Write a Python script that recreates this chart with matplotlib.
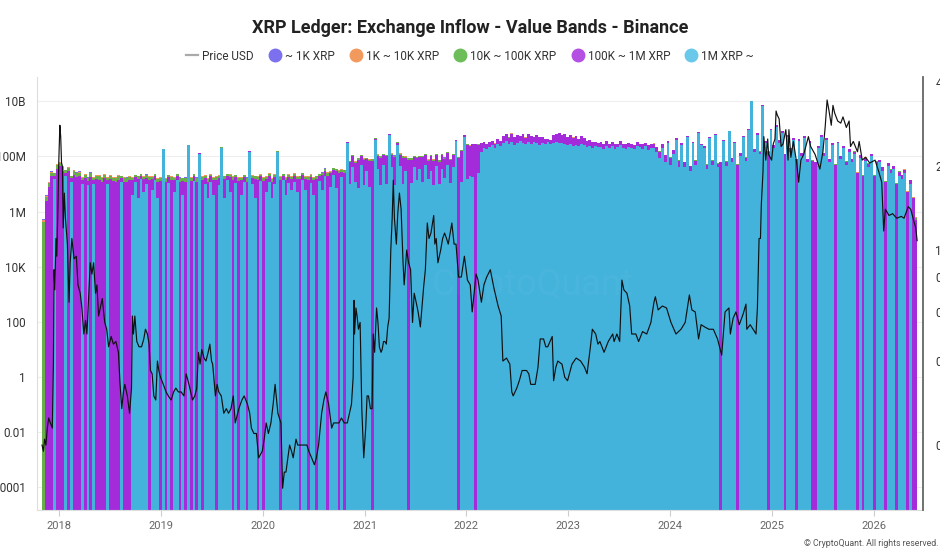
import numpy as np
import pandas as pd
import matplotlib
matplotlib.use('Agg')
import matplotlib.pyplot as plt
from matplotlib.lines import Line2D
from matplotlib.ticker import FixedLocator, FixedFormatter, NullLocator

plt.rcParams['font.family'] = ['Roboto', 'DejaVu Sans']

# ---------------- data ----------------
title = 'XRP Ledger: Exchange Inflow - Value Bands - Binance'
series_names = ['~ 1K XRP', '1K ~ 10K XRP', '10K ~ 100K XRP', '100K ~ 1M XRP', '1M XRP ~']
price_name = 'Price USD'

bin_start = '2017-11-01'   # first bar
bin_days = 10              # one bar per 10 days

# inflow per band, millions of XRP
band_1m_plus = [
    0, 0, 0, 0, 15, 0, 0, 0, 20, 0,
    12, 0, 0, 0, 10, 0, 9, 0, 10, 0,
    0, 0, 0, 10, 0, 0, 0, 0, 12, 0,
    0, 0, 4, 12, 3, 15, 5, 10, 0, 6,
    14, 3, 0, 180, 0, 11, 0, 5, 14, 0,
    4, 0, 250, 0, 13, 0, 120, 0, 10, 3,
    12, 4, 0, 9, 200, 3, 14, 5, 0, 11,
    0, 4, 12, 0, 150, 10, 3, 0, 13, 0,
    5, 12, 3, 10, 140, 0, 14, 4, 11, 6,
    12, 5, 0, 14, 6, 0, 11, 4, 0, 13,
    6, 20, 0, 8, 22, 7, 0, 18, 0, 300,
    10, 40, 12, 7, 50, 9, 30, 8, 0, 400,
    35, 9, 50, 10, 600, 40, 9, 250, 45, 10,
    30, 0, 11, 40, 14, 35, 12, 50, 15, 30,
    9, 45, 10, 35, 16, 50, 11, 40, 350, 0,
    12, 500, 15, 20, 18, 0, 25, 150, 200, 180,
    220, 250, 200, 280, 230, 300, 350, 280, 320, 260,
    300, 350, 300, 280, 330, 280, 320, 300, 260, 300,
    280, 320, 270, 300, 320, 300, 300, 280, 260, 290,
    230, 260, 240, 280, 250, 220, 240, 200, 230, 210,
    220, 190, 240, 200, 230, 180, 210, 250, 200, 190,
    220, 200, 180, 240, 210, 190, 230, 170, 200, 200,
    150, 90, 200, 60, 300, 50, 120, 400, 40, 250,
    40, 500, 30, 300, 50, 700, 250, 200, 35, 450,
    50, 600, 40, 0, 350, 45, 800, 60, 300, 0,
    100, 500, 70, 900, 10000, 150, 600, 120, 7000, 300,
    0, 900, 200, 1200, 300, 700, 0, 500, 150, 400,
    0, 350, 100, 450, 60, 300, 0, 0, 200, 500,
    100, 400, 60, 250, 0, 300, 80, 200, 50, 150,
    60, 120, 0, 90, 0, 70, 40, 100, 0, 50,
    60, 30, 0, 45, 25, 35, 0, 20, 15, 25,
    0, 10, 0, 0,
]
band_100k_1m = [
    0, 2.5, 8, 20, 5, 35, 45, 30, 6, 30,
    4, 22, 18, 20, 4, 16, 4, 18, 4, 15,
    14, 12, 16, 4, 15, 13, 12, 14, 4, 12,
    12, 14, 10, 6, 12, 5, 10, 7, 14, 9,
    6, 9, 13, 8, 12, 7, 14, 9, 6, 12,
    9, 12, 8, 13, 7, 12, 8, 14, 7, 9,
    7, 10, 14, 8, 8, 12, 6, 13, 14, 7,
    13, 10, 6, 12, 8, 7, 12, 14, 6, 13,
    10, 7, 9, 8, 8, 14, 6, 10, 7, 9,
    7, 10, 15, 7, 9, 14, 7, 10, 15, 7,
    15, 10, 20, 16, 10, 22, 24, 10, 25, 20,
    50, 60, 45, 70, 55, 65, 50, 60, 70, 40,
    70, 80, 60, 90, 50, 75, 85, 60, 70, 80,
    60, 75, 65, 55, 70, 60, 80, 65, 55, 70,
    60, 70, 55, 75, 65, 80, 60, 70, 50, 85,
    150, 100, 250, 220, 260, 280, 240, 150, 120, 100,
    100, 120, 90, 150, 130, 250, 300, 200, 350, 250,
    300, 200, 350, 200, 300, 250, 200, 300, 250, 200,
    150, 100, 120, 300, 350, 400, 300, 350, 250, 300,
    250, 300, 200, 250, 200, 150, 150, 120, 100, 100,
    100, 90, 110, 80, 100, 90, 80, 100, 70, 90,
    80, 90, 70, 100, 80, 90, 70, 80, 90, 90,
    70, 60, 80, 50, 60, 40, 50, 60, 30, 50,
    20, 50, 15, 40, 20, 60, 40, 30, 15, 40,
    20, 50, 15, 60, 40, 20, 60, 25, 40, 50,
    30, 60, 20, 80, 200, 40, 80, 30, 200, 60,
    150, 100, 60, 150, 80, 100, 120, 80, 50, 70,
    80, 60, 30, 80, 20, 60, 70, 60, 40, 80,
    30, 60, 20, 50, 50, 40, 20, 40, 15, 40,
    20, 30, 25, 25, 20, 20, 15, 25, 20, 15,
    15, 10, 12, 12, 8, 10, 10, 8, 6, 8,
    5, 4, 3, 0.5,
]
band_10k_100k = [
    0.4, 1, 3, 6, 4, 12, 14, 10, 5, 9,
    3, 7, 6, 6, 3, 5, 3, 6, 3, 5,
    5, 4, 5, 3, 5, 4, 4, 5, 3, 4,
    4, 4, 3, 3, 4, 3, 3, 4, 4, 3,
    3, 3, 4, 3, 3, 3, 4, 3, 3, 4,
    3, 4, 3, 4, 3, 4, 3, 4, 3, 3,
    3, 3, 4, 3, 3, 4, 3, 4, 4, 3,
    4, 3, 3, 4, 3, 3, 4, 4, 3, 4,
    3, 4, 3, 4, 3, 4, 3, 3, 4, 3,
    4, 3, 4, 3, 3, 4, 4, 3, 4, 3,
    4, 5, 5, 4, 5, 5, 6, 5, 6, 5,
    8, 9, 7, 10, 8, 9, 8, 9, 10, 7,
    10, 11, 9, 12, 8, 10, 11, 9, 10, 11,
    8, 9, 8, 7, 9, 8, 10, 8, 7, 9,
    8, 9, 7, 9, 8, 10, 8, 9, 7, 10,
    6, 5, 8, 7, 8, 8, 7, 5, 4, 4,
    4, 4, 3, 5, 4, 5, 6, 5, 6, 5,
    5, 4, 5, 4, 5, 4, 4, 5, 4, 4,
    3, 3, 3, 5, 5, 6, 5, 5, 4, 5,
    4, 5, 4, 4, 3, 3, 3, 3, 2, 2,
    2, 2, 2, 2, 2, 2, 2, 2, 2, 2,
    2, 2, 2, 2, 2, 2, 2, 2, 2, 3,
    2, 2, 2, 1.5, 2, 1.5, 2, 2, 1.5, 2,
    1.5, 2, 1, 2, 1.5, 2, 2, 1.5, 1, 2,
    1.5, 2, 1, 2, 2, 1.5, 2, 1.5, 2, 2,
    1.5, 2, 1.5, 3, 4, 2, 3, 2, 4, 3,
    4, 3, 2, 4, 3, 3, 3, 3, 2, 3,
    3, 2, 1.5, 3, 1.5, 2, 2, 2, 1.5, 3,
    1.5, 2, 1, 2, 2, 1.5, 1, 1.5, 1, 1.5,
    1, 1.5, 1, 1, 1, 1, 0.8, 1, 1, 0.8,
    0.8, 0.6, 0.6, 0.6, 0.5, 0.5, 0.5, 0.4, 0.4, 0.4,
    0.3, 0.3, 0.2, 0.1,
]
band_1k_10k = [
    0.1, 0.3, 1, 2, 1.5, 4, 5, 3, 2, 3,
    1, 2, 2, 2, 1, 1.5, 1, 2, 1, 1.5,
    1.5, 1.2, 1.5, 1, 1.5, 1.2, 1.2, 1.5, 1, 1.2,
    1, 1, 0.8, 0.8, 1, 0.8, 0.8, 1, 1, 0.8,
    0.8, 0.8, 1, 0.8, 0.8, 0.8, 1, 0.8, 0.8, 1,
    0.8, 1, 0.8, 1, 0.8, 1, 0.8, 1, 0.8, 0.8,
    0.8, 0.8, 1, 0.8, 0.8, 1, 0.8, 1, 1, 0.8,
    1, 0.8, 0.8, 1, 0.8, 0.8, 1, 1, 0.8, 1,
    0.8, 1, 0.8, 1, 0.8, 1, 0.8, 0.8, 1, 0.8,
    1, 0.8, 1, 0.8, 0.8, 1, 1, 0.8, 1, 0.8,
    1, 1.2, 1.2, 1, 1.2, 1.2, 1.5, 1.2, 1.5, 1.2,
    2, 2, 1.5, 2.5, 2, 2, 2, 2, 2.5, 1.5,
    2.5, 2.5, 2, 3, 2, 2.5, 2.5, 2, 2.5, 2.5,
    2, 2, 2, 1.5, 2, 2, 2.5, 2, 1.5, 2,
    2, 2, 1.5, 2, 2, 2.5, 2, 2, 1.5, 2.5,
    1.5, 1, 2, 1.5, 2, 2, 1.5, 1, 1, 1,
    0.8, 0.8, 0.6, 1, 0.8, 1, 1.2, 1, 1.2, 1,
    1, 0.8, 1, 0.8, 1, 0.8, 0.8, 1, 0.8, 0.8,
    0.6, 0.6, 0.6, 1, 1, 1.2, 1, 1, 0.8, 1,
    0.8, 1, 0.8, 0.8, 0.6, 0.6, 0.6, 0.6, 0.4, 0.4,
    0.4, 0.4, 0.4, 0.4, 0.4, 0.4, 0.4, 0.4, 0.4, 0.4,
    0.4, 0.4, 0.4, 0.4, 0.4, 0.4, 0.4, 0.4, 0.4, 0.6,
    0.4, 0.4, 0.4, 0.3, 0.4, 0.3, 0.4, 0.4, 0.3, 0.4,
    0.3, 0.4, 0.2, 0.4, 0.3, 0.4, 0.4, 0.3, 0.2, 0.4,
    0.3, 0.4, 0.2, 0.4, 0.4, 0.3, 0.4, 0.3, 0.4, 0.4,
    0.3, 0.4, 0.3, 0.6, 0.8, 0.4, 0.6, 0.4, 0.8, 0.6,
    0.8, 0.6, 0.4, 0.8, 0.6, 0.6, 0.6, 0.6, 0.4, 0.6,
    0.6, 0.4, 0.3, 0.6, 0.3, 0.4, 0.4, 0.4, 0.3, 0.6,
    0.3, 0.4, 0.2, 0.4, 0.4, 0.3, 0.2, 0.3, 0.2, 0.3,
    0.2, 0.3, 0.2, 0.2, 0.2, 0.2, 0.15, 0.2, 0.2, 0.15,
    0.15, 0.12, 0.12, 0.12, 0.1, 0.1, 0.1, 0.08, 0.08, 0.08,
    0.06, 0.06, 0.04, 0.02,
]
band_under_1k = [
    0.02, 0.05, 0.1, 0.3, 0.2, 0.5, 0.6, 0.4, 0.3, 0.4,
    0.2, 0.3, 0.3, 0.3, 0.2, 0.2, 0.2, 0.3, 0.2, 0.2,
    0.2, 0.2, 0.2, 0.15, 0.2, 0.2, 0.2, 0.2, 0.15, 0.2,
    0.15, 0.15, 0.1, 0.1, 0.15, 0.1, 0.1, 0.15, 0.15, 0.1,
    0.1, 0.1, 0.15, 0.1, 0.1, 0.1, 0.15, 0.1, 0.1, 0.15,
    0.1, 0.15, 0.1, 0.15, 0.1, 0.15, 0.1, 0.15, 0.1, 0.1,
    0.1, 0.1, 0.15, 0.1, 0.1, 0.15, 0.1, 0.15, 0.15, 0.1,
    0.15, 0.1, 0.1, 0.15, 0.1, 0.1, 0.15, 0.15, 0.1, 0.15,
    0.1, 0.15, 0.1, 0.15, 0.1, 0.15, 0.1, 0.1, 0.15, 0.1,
    0.15, 0.1, 0.15, 0.1, 0.1, 0.15, 0.15, 0.1, 0.15, 0.1,
    0.15, 0.2, 0.2, 0.15, 0.2, 0.2, 0.2, 0.2, 0.2, 0.2,
    0.3, 0.3, 0.25, 0.3, 0.3, 0.3, 0.3, 0.3, 0.3, 0.25,
    0.3, 0.3, 0.3, 0.35, 0.3, 0.3, 0.3, 0.3, 0.3, 0.3,
    0.3, 0.3, 0.3, 0.25, 0.3, 0.3, 0.3, 0.3, 0.25, 0.3,
    0.3, 0.3, 0.25, 0.3, 0.3, 0.3, 0.3, 0.3, 0.25, 0.3,
    0.2, 0.2, 0.25, 0.2, 0.25, 0.25, 0.2, 0.2, 0.15, 0.15,
    0.1, 0.1, 0.1, 0.12, 0.1, 0.12, 0.12, 0.1, 0.12, 0.1,
    0.1, 0.1, 0.1, 0.1, 0.1, 0.1, 0.1, 0.1, 0.1, 0.1,
    0.1, 0.1, 0.1, 0.12, 0.12, 0.12, 0.1, 0.1, 0.1, 0.1,
    0.1, 0.1, 0.1, 0.1, 0.08, 0.08, 0.08, 0.08, 0.06, 0.06,
    0.06, 0.06, 0.06, 0.06, 0.06, 0.06, 0.06, 0.06, 0.06, 0.06,
    0.06, 0.06, 0.06, 0.06, 0.06, 0.06, 0.06, 0.06, 0.06, 0.08,
    0.05, 0.05, 0.05, 0.05, 0.05, 0.05, 0.05, 0.05, 0.05, 0.05,
    0.05, 0.05, 0.04, 0.05, 0.05, 0.05, 0.05, 0.05, 0.04, 0.05,
    0.05, 0.05, 0.04, 0.05, 0.05, 0.05, 0.05, 0.05, 0.05, 0.05,
    0.05, 0.05, 0.05, 0.08, 0.1, 0.05, 0.08, 0.05, 0.1, 0.08,
    0.1, 0.08, 0.06, 0.1, 0.08, 0.08, 0.08, 0.08, 0.06, 0.08,
    0.08, 0.06, 0.05, 0.08, 0.05, 0.06, 0.06, 0.06, 0.05, 0.08,
    0.05, 0.06, 0.04, 0.05, 0.05, 0.05, 0.04, 0.05, 0.04, 0.05,
    0.04, 0.05, 0.04, 0.04, 0.04, 0.04, 0.03, 0.04, 0.04, 0.03,
    0.03, 0.02, 0.02, 0.02, 0.02, 0.02, 0.02, 0.02, 0.02, 0.02,
    0.01, 0.01, 0.01, 0.005,
]

price_dates = [
    '2017-11-01', '2017-11-06', '2017-11-10', '2017-11-15', '2017-11-20', '2017-11-25',
    '2017-12-01', '2017-12-08', '2017-12-12', '2017-12-14', '2017-12-17', '2017-12-21',
    '2017-12-24', '2017-12-28', '2017-12-31', '2018-01-04', '2018-01-07', '2018-01-10',
    '2018-01-13', '2018-01-16', '2018-01-20', '2018-01-24', '2018-01-31', '2018-02-06',
    '2018-02-10', '2018-02-16', '2018-02-24', '2018-03-04', '2018-03-10', '2018-03-18',
    '2018-03-24', '2018-03-31', '2018-04-06', '2018-04-11', '2018-04-18', '2018-04-23',
    '2018-04-29', '2018-05-05', '2018-05-12', '2018-05-17', '2018-05-23', '2018-05-29',
    '2018-06-05', '2018-06-10', '2018-06-14', '2018-06-21', '2018-06-28', '2018-07-07',
    '2018-07-15', '2018-07-24', '2018-08-02', '2018-08-08', '2018-08-14', '2018-08-20',
    '2018-08-25', '2018-09-03', '2018-09-11', '2018-09-18', '2018-09-21', '2018-09-25',
    '2018-09-30', '2018-10-07', '2018-10-15', '2018-10-24', '2018-11-01', '2018-11-07',
    '2018-11-14', '2018-11-20', '2018-11-25', '2018-12-01', '2018-12-07', '2018-12-14',
    '2018-12-20', '2018-12-25', '2018-12-31', '2019-01-10', '2019-01-20', '2019-01-28',
    '2019-02-07', '2019-02-16', '2019-02-24', '2019-03-05', '2019-03-15', '2019-03-25',
    '2019-04-02', '2019-04-12', '2019-04-25', '2019-05-03', '2019-05-10', '2019-05-16',
    '2019-05-22', '2019-05-28', '2019-06-05', '2019-06-12', '2019-06-20', '2019-06-26',
    '2019-07-02', '2019-07-06', '2019-07-16', '2019-07-22', '2019-07-28', '2019-08-06',
    '2019-08-15', '2019-08-24', '2019-09-01', '2019-09-10', '2019-09-18', '2019-09-25',
    '2019-10-08', '2019-10-19', '2019-10-27', '2019-11-08', '2019-11-16', '2019-11-22',
    '2019-12-01', '2019-12-10', '2019-12-18', '2019-12-31', '2020-01-07', '2020-01-14',
    '2020-01-22', '2020-01-31', '2020-02-08', '2020-02-15', '2020-02-25', '2020-03-07',
    '2020-03-13', '2020-03-19', '2020-03-25', '2020-04-07', '2020-04-14', '2020-04-20',
    '2020-04-30', '2020-05-06', '2020-05-12', '2020-05-20', '2020-05-31', '2020-06-08',
    '2020-06-15', '2020-06-25', '2020-07-05', '2020-07-12', '2020-07-20', '2020-07-31',
    '2020-08-08', '2020-08-15', '2020-08-25', '2020-09-05', '2020-09-12', '2020-09-20',
    '2020-10-01', '2020-10-10', '2020-10-20', '2020-10-31', '2020-11-08', '2020-11-15',
    '2020-11-21', '2020-11-24', '2020-11-26', '2020-12-01', '2020-12-05', '2020-12-10',
    '2020-12-16', '2020-12-22', '2020-12-29', '2021-01-05', '2021-01-10', '2021-01-15',
    '2021-01-22', '2021-01-28', '2021-02-01', '2021-02-06', '2021-02-13', '2021-02-18',
    '2021-02-23', '2021-03-01', '2021-03-05', '2021-03-10', '2021-03-15', '2021-03-20',
    '2021-03-25', '2021-03-30', '2021-04-05', '2021-04-10', '2021-04-14', '2021-04-18',
    '2021-04-25', '2021-04-30', '2021-05-06', '2021-05-12', '2021-05-19', '2021-05-23',
    '2021-06-01', '2021-06-08', '2021-06-15', '2021-06-22', '2021-06-28', '2021-07-05',
    '2021-07-12', '2021-07-20', '2021-08-01', '2021-08-07', '2021-08-14', '2021-08-20',
    '2021-08-27', '2021-09-06', '2021-09-10', '2021-09-15', '2021-09-21', '2021-10-01',
    '2021-10-08', '2021-10-15', '2021-10-22', '2021-10-28', '2021-11-04', '2021-11-10',
    '2021-11-18', '2021-11-25', '2021-12-04', '2021-12-14', '2021-12-25', '2022-01-05',
    '2022-01-15', '2022-01-22', '2022-02-05', '2022-02-12', '2022-02-24', '2022-03-05',
    '2022-03-15', '2022-03-28', '2022-04-10', '2022-04-25', '2022-05-06', '2022-05-12',
    '2022-05-25', '2022-06-06', '2022-06-13', '2022-06-18', '2022-07-01', '2022-07-10',
    '2022-07-20', '2022-08-05', '2022-08-13', '2022-08-20', '2022-09-05', '2022-09-15',
    '2022-09-23', '2022-10-05', '2022-10-13', '2022-10-20', '2022-11-05', '2022-11-10',
    '2022-11-18', '2022-11-25', '2022-12-10', '2022-12-20', '2022-12-30', '2023-01-15',
    '2023-01-30', '2023-02-15', '2023-03-01', '2023-03-10', '2023-03-22', '2023-03-29',
    '2023-04-10', '2023-04-18', '2023-04-25', '2023-05-10', '2023-05-25', '2023-06-10',
    '2023-06-15', '2023-06-25', '2023-07-05', '2023-07-13', '2023-07-20', '2023-07-31',
    '2023-08-10', '2023-08-17', '2023-09-01', '2023-09-11', '2023-09-25', '2023-10-10',
    '2023-10-25', '2023-11-05', '2023-11-10', '2023-11-20', '2023-12-05', '2023-12-20',
    '2024-01-05', '2024-01-23', '2024-02-10', '2024-02-25', '2024-03-11', '2024-03-20',
    '2024-04-01', '2024-04-13', '2024-04-22', '2024-05-05', '2024-05-20', '2024-06-05',
    '2024-06-20', '2024-07-05', '2024-07-17', '2024-07-31', '2024-08-05', '2024-08-15',
    '2024-08-25', '2024-09-06', '2024-09-20', '2024-09-30', '2024-10-03', '2024-10-15',
    '2024-10-31', '2024-11-05', '2024-11-10', '2024-11-16', '2024-11-21', '2024-11-24',
    '2024-11-30', '2024-12-03', '2024-12-10', '2024-12-17', '2024-12-20', '2024-12-31',
    '2025-01-06', '2025-01-12', '2025-01-16', '2025-01-20', '2025-01-27', '2025-02-03',
    '2025-02-10', '2025-02-20', '2025-02-28', '2025-03-03', '2025-03-10', '2025-03-19',
    '2025-03-31', '2025-04-07', '2025-04-15', '2025-04-25', '2025-05-12', '2025-05-20',
    '2025-06-05', '2025-06-22', '2025-07-03', '2025-07-11', '2025-07-18', '2025-07-25',
    '2025-08-02', '2025-08-08', '2025-08-14', '2025-08-25', '2025-09-05', '2025-09-13',
    '2025-09-25', '2025-10-05', '2025-10-10', '2025-10-20', '2025-11-04', '2025-11-10',
    '2025-11-21', '2025-12-03', '2025-12-18', '2026-01-06', '2026-01-20', '2026-01-30',
    '2026-02-06', '2026-02-12', '2026-02-25', '2026-03-10', '2026-03-25', '2026-04-10',
    '2026-04-20', '2026-05-05', '2026-05-14', '2026-05-25', '2026-06-01', '2026-06-06',
]
price_usd = [
    0.20, 0.19, 0.21, 0.20, 0.23, 0.25,
    0.24, 0.23, 0.40, 0.85, 0.72, 1.10,
    0.95, 1.40, 2.05, 2.80, 2.55, 2.05,
    2.00, 1.20, 1.60, 1.30, 1.05, 0.65,
    0.90, 1.10, 0.93, 0.95, 0.75, 0.70,
    0.62, 0.50, 0.56, 0.50, 0.70, 0.90,
    0.82, 0.90, 0.70, 0.75, 0.58, 0.62,
    0.67, 0.60, 0.55, 0.52, 0.45, 0.49,
    0.46, 0.47, 0.43, 0.33, 0.27, 0.31,
    0.33, 0.30, 0.26, 0.32, 0.58, 0.50,
    0.58, 0.47, 0.45, 0.45, 0.48, 0.52,
    0.50, 0.46, 0.37, 0.36, 0.30, 0.29,
    0.40, 0.37, 0.35, 0.33, 0.31, 0.30,
    0.29, 0.31, 0.32, 0.31, 0.31, 0.30,
    0.36, 0.33, 0.29, 0.30, 0.32, 0.43,
    0.39, 0.44, 0.41, 0.40, 0.43, 0.46,
    0.40, 0.39, 0.30, 0.33, 0.31, 0.30,
    0.26, 0.27, 0.26, 0.27, 0.30, 0.24,
    0.27, 0.29, 0.30, 0.28, 0.26, 0.23,
    0.22, 0.22, 0.18, 0.19, 0.21, 0.24,
    0.22, 0.24, 0.28, 0.33, 0.26, 0.24,
    0.14, 0.16, 0.16, 0.20, 0.19, 0.18,
    0.21, 0.20, 0.20, 0.20, 0.20, 0.20,
    0.19, 0.18, 0.17, 0.18, 0.20, 0.26,
    0.29, 0.31, 0.28, 0.23, 0.24, 0.24,
    0.24, 0.25, 0.24, 0.24, 0.26, 0.28,
    0.35, 0.66, 0.50, 0.62, 0.58, 0.52,
    0.55, 0.27, 0.18, 0.23, 0.30, 0.30,
    0.27, 0.27, 0.50, 0.43, 0.62, 0.55,
    0.45, 0.43, 0.44, 0.47, 0.47, 0.46,
    0.53, 0.57, 1.00, 1.30, 1.78, 1.30,
    1.05, 1.35, 1.60, 1.40, 0.90, 0.75,
    1.00, 0.90, 0.85, 0.55, 0.70, 0.65,
    0.60, 0.53, 0.74, 0.85, 1.25, 1.10,
    1.15, 1.33, 1.05, 1.10, 0.90, 1.00,
    1.10, 1.15, 1.10, 1.05, 1.15, 1.25,
    1.05, 1.05, 0.80, 0.80, 0.95, 0.78,
    0.75, 0.60, 0.82, 0.78, 0.65, 0.75,
    0.80, 0.85, 0.73, 0.63, 0.58, 0.40,
    0.41, 0.39, 0.31, 0.30, 0.32, 0.34,
    0.37, 0.37, 0.36, 0.33, 0.33, 0.38,
    0.48, 0.48, 0.45, 0.45, 0.49, 0.34,
    0.38, 0.40, 0.39, 0.35, 0.34, 0.39,
    0.41, 0.40, 0.38, 0.36, 0.45, 0.52,
    0.50, 0.46, 0.47, 0.43, 0.47, 0.50,
    0.47, 0.50, 0.47, 0.78, 0.72, 0.70,
    0.63, 0.50, 0.50, 0.47, 0.51, 0.50,
    0.55, 0.65, 0.68, 0.61, 0.63, 0.62,
    0.55, 0.50, 0.52, 0.55, 0.69, 0.61,
    0.60, 0.48, 0.54, 0.53, 0.52, 0.52,
    0.48, 0.42, 0.60, 0.62, 0.50, 0.57,
    0.60, 0.54, 0.59, 0.64, 0.52, 0.54,
    0.51, 0.50, 0.62, 1.10, 1.10, 1.45,
    1.90, 2.55, 2.10, 2.50, 2.20, 2.10,
    2.40, 2.50, 3.15, 3.05, 2.95, 2.35,
    2.40, 2.70, 2.10, 2.70, 2.15, 2.45,
    2.05, 1.75, 2.10, 2.20, 2.55, 2.35,
    2.20, 1.95, 2.25, 2.75, 3.45, 3.15,
    2.80, 3.30, 3.10, 2.90, 2.85, 3.00,
    2.75, 2.90, 2.35, 2.45, 2.25, 2.45,
    2.10, 2.15, 2.05, 2.10, 1.90, 1.75,
    1.17, 1.40, 1.33, 1.35, 1.30, 1.32,
    1.30, 1.43, 1.40, 1.27, 1.20, 1.08,
]

left_ticks = [1e-4, 1e-2, 1, 1e2, 1e4, 1e6, 1e8, 1e10]
left_tick_labels = ['0.0001', '0.01', '1', '100', '10K', '1M', '100M', '10B']
right_ticks = [0.2, 0.4, 0.6, 0.8, 1, 2, 4]
right_tick_labels = ['0.2', '0.4', '0.6', '0.8', '1', '2', '4']
year_labels = ['2018', '2019', '2020', '2021', '2022', '2023', '2024', '2025', '2026']

# ---------------- styles ----------------
bar_colors = ['#7b6cf0', '#f0965a', '#6aae4a', '#a32bd9', '#44b3dc']
legend_colors = ['#7d70ee', '#f29a5e', '#6dbd5b', '#b450e2', '#6ac8ea']

fig = plt.figure(figsize=(9.4, 5.6), dpi=100)
ax = fig.add_axes([37 / 940, 1 - 510 / 560, (923 - 37) / 940, (510 - 77) / 560])

dates = pd.date_range(bin_start, periods=len(band_1m_plus), freq=f'{bin_days}D')
scale = 1e6
stack_order = [band_1m_plus, band_100k_1m, band_10k_100k, band_1k_10k, band_under_1k]
stack_colors = [bar_colors[4], bar_colors[3], bar_colors[2], bar_colors[1], bar_colors[0]]

ax.set_yscale('log')
bottom = np.zeros(len(dates))
for vals, col in zip(stack_order, stack_colors):
    v = np.array(vals, dtype=float) * scale
    ax.bar(dates, v, width=bin_days, bottom=bottom, align='edge', color=col,
           linewidth=0, antialiased=False, zorder=2)
    bottom = bottom + v

ax.set_ylim(10 ** -4.83, 10 ** 10.88)
ax.set_xlim(pd.Timestamp('2017-10-14'), pd.Timestamp('2026-06-27'))

ax.yaxis.set_major_locator(FixedLocator(left_ticks))
ax.yaxis.set_major_formatter(FixedFormatter(left_tick_labels))
ax.yaxis.set_minor_locator(NullLocator())
ax.tick_params(axis='y', length=0, pad=8, labelsize=8.5, labelcolor='#333333')
ax.grid(axis='y', color='#eeeeee', linewidth=0.8, zorder=0)
ax.set_axisbelow(True)

year_pos = [pd.Timestamp(f'{y}-01-01') for y in year_labels]
ax.set_xticks(year_pos)
ax.set_xticklabels(year_labels)
ax.xaxis.set_minor_locator(NullLocator())
ax.tick_params(axis='x', length=4, color='#cccccc', pad=4, labelsize=8, labelcolor='#666666')

for s in ['top', 'right']:
    ax.spines[s].set_visible(False)
ax.spines['left'].set_color('#dddddd')
ax.spines['bottom'].set_color('#dddddd')

# price on right log axis
ax2 = ax.twinx()
ax2.set_yscale('log')
ax2.plot(pd.to_datetime(price_dates), price_usd, color='#111111', linewidth=0.85, zorder=5)
ax2.set_ylim(0.117, 4.17)
ax2.yaxis.set_major_locator(FixedLocator(right_ticks))
ax2.yaxis.set_major_formatter(FixedFormatter(right_tick_labels))
ax2.yaxis.set_minor_locator(NullLocator())
ax2.tick_params(axis='y', length=0, pad=9, labelsize=8.5, labelcolor='#333333')
for s in ['top', 'left', 'bottom']:
    ax2.spines[s].set_visible(False)
ax2.spines['right'].set_color('#666666')
ax2.spines['right'].set_linewidth(1.3)

# watermark
ax.text(0.56, 0.52, 'CryptoQuant', transform=ax.transAxes, ha='center', va='center',
        fontsize=26, color='white', alpha=0.03, zorder=3)

# title & legend
fig.text(0.5, 1 - 28 / 560, title, ha='center', va='center', fontsize=13,
         fontweight='bold', color='#222222')
handles = [Line2D([0], [0], color='#aaaaaa', linewidth=1.6)]
for c in legend_colors:
    handles.append(Line2D([0], [0], marker='o', linestyle='', markersize=9,
                          markerfacecolor=c, markeredgecolor=c))
fig.legend(handles, [price_name] + series_names, loc='center',
           bbox_to_anchor=(0.5, 1 - 56 / 560), ncol=6, frameon=False, fontsize=8.5,
           handlelength=1.0, handletextpad=0.35, columnspacing=1.3,
           labelcolor='#333333')

fig.text(0.998, 1 - 543 / 560, '\u00a9 CryptoQuant. All rights reserved.', ha='right',
         va='center', fontsize=6.3, color='#555555')

fig.savefig('out.png', dpi=100)
